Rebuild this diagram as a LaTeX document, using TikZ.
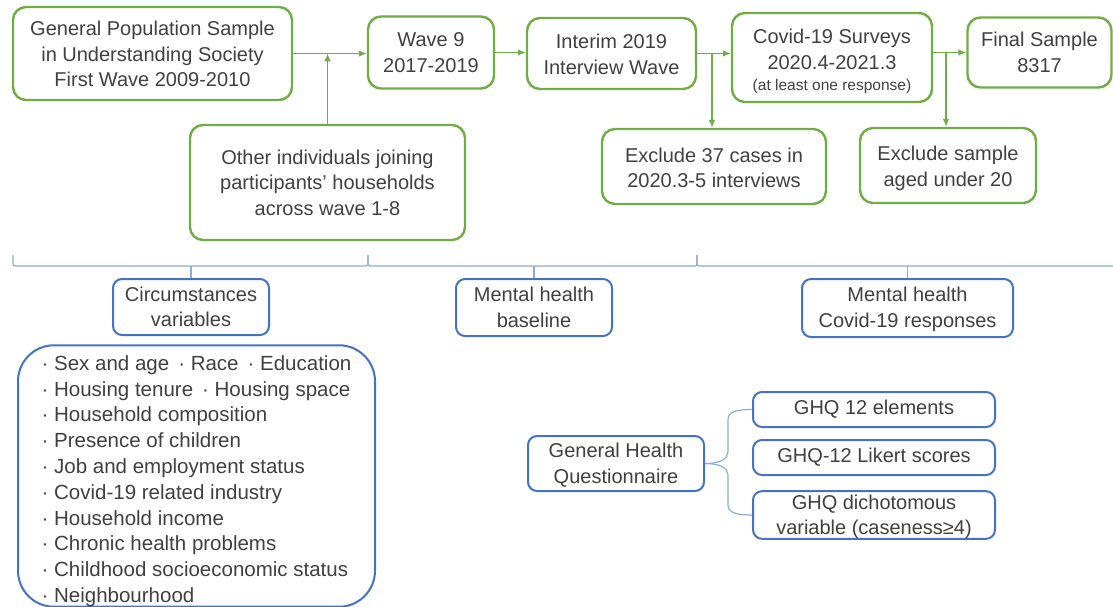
\documentclass[tikz,border=0pt]{standalone}
\usepackage{fontspec}
\setmainfont{Liberation Sans}
\usetikzlibrary{arrows.meta}
\definecolor{gr}{HTML}{70AD47}
\definecolor{bl}{HTML}{4472C4}
\definecolor{lbl}{HTML}{8FAADC}
\definecolor{txt}{HTML}{404040}
\newcommand\fsz[2]{\fontsize{#1}{#2}\selectfont}
\begin{document}
\begin{tikzpicture}[x=1pt,y=-1pt,
  gbox/.style={draw=gr,line width=2.4pt,rounded corners=13pt,align=center,text=txt,inner sep=0pt,font=\fsz{20}{25.5}},
  bbox/.style={draw=bl,line width=2pt,rounded corners=9pt,align=center,text=txt,inner sep=0pt,font=\fsz{20}{25.5}},
  arr/.style={draw=gr,line width=1.1pt,-{Latex[length=8pt,width=6.5pt]}},
  brc/.style={draw=lbl,line width=1.2pt,rounded corners=2pt},
  gbr/.style={draw=lbl,line width=1.2pt}]
\useasboundingbox (0,0) rectangle (1113,607);
% top flow
\node[gbox,minimum width=279pt,minimum height=93pt] (A) at (152.5,53.5) {\rule{0pt}{16pt}General Population Sample\\in Understanding Society\\First Wave 2009-2010};
\node[gbox,minimum width=126pt,minimum height=72pt] (W9) at (431,52.5) {Wave 9\\2017-2019};
\node[gbox,minimum width=169pt,minimum height=71pt] (Int) at (611.5,53.5) {\rule{0pt}{16pt}Interim 2019\\Interview Wave};
\node[gbox,minimum width=200pt,minimum height=89pt] (Cov) at (832,57.5) {\rule{0pt}{23pt}Covid-19 Surveys\\2020.4-2021.3\\[-4pt]{\fsz{15.5}{18}(at least one response)}};
\node[gbox,minimum width=144pt,minimum height=70pt] (Fin) at (1039.5,52.5) {Final Sample\\8317};
\node[gbox,minimum width=275pt,minimum height=115pt] (Oth) at (327.5,182.5) {Other individuals joining\\participants’ households\\across wave 1-8};
\node[gbox,minimum width=224pt,minimum height=75pt] (Ex37) at (714,166.5) {\rule{0pt}{17pt}Exclude 37 cases in\\2020.3-5 interviews};
\node[gbox,minimum width=176pt,minimum height=75pt] (ExS) at (948,165.5) {\rule{0pt}{20pt}Exclude sample\\aged under 20};
\coordinate (j2) at (712,53.5);
\coordinate (j3) at (946,52.5);
\draw[arr] (A.east) -- (A.east -| W9.west);
\draw[arr] (Oth.north) -- (Oth.north |- A.east);
\draw[arr] (W9.east) -- (W9.east -| Int.west);
\draw[arr] (Int.east) -- (Int.east -| Cov.west);
\draw[arr] (j2) -- (j2 |- Ex37.north);
\draw[arr] (Cov.east |- Fin.west) -- (Fin.west);
\draw[arr] (j3) -- (j3 |- ExS.north);
% lower part
\node[bbox,minimum width=156pt,minimum height=56pt] (Circ) at (191,307) {Circumstances\\variables};
\node[bbox,minimum width=156pt,minimum height=57pt] (MHB) at (534,307.5) {Mental health\\baseline};
\node[bbox,minimum width=211pt,minimum height=58pt] (MHC) at (907.5,308) {\rule{0pt}{17pt}Mental health\\Covid-19 responses};
\draw[brc] (13,255) -- (13,266) -- (368,266) -- (368,255);
\draw[brc] (368,255) -- (368,266) -- (697,266) -- (697,255);
\draw[brc] (697,255) -- (697,266) -- (1114,266);
\draw[gbr] (Circ.north |- 0,266) -- (Circ.north);
\draw[gbr] (MHB.north |- 0,266) -- (MHB.north);
\draw[gbr] (MHC.north |- 0,266) -- (MHC.north);
\node[bbox,rounded corners=36pt,minimum width=357pt,minimum height=258pt,align=left,font=\fsz{20.5}{25.8}] (List) at (196.5,476)
 {\rule{0pt}{25pt}· Sex and age\hspace{9pt}· Race\hspace{9pt}· Education\\
  · Housing tenure\hspace{9pt}· Housing space\\
  · Household composition\\
  · Presence of children\\
  · Job and employment status\\
  · Covid-19 related industry\\
  · Household income\\
  · Chronic health problems\\
  · Childhood socioeconomic status\\
  · Neighbourhood};
\node[bbox,minimum width=176pt,minimum height=55pt] (GHQ) at (616,463.5) {\rule{0pt}{18pt}General Health\\Questionnaire};
\node[bbox,minimum width=242pt,minimum height=35pt] (B1) at (874,409.5) {GHQ 12 elements};
\node[bbox,minimum width=242pt,minimum height=35pt] (B2) at (874,457.5) {GHQ-12 Likert scores};
\node[bbox,minimum width=242pt,minimum height=46pt] (B3) at (874,515) {\rule{0pt}{18pt}GHQ dichotomous\\variable (caseness≥4)};
\draw[gbr] (B1.west) .. controls (735,409.5) and (728,412) .. (728,420) -- (728,452) .. controls (728,459) and (720,463.5) .. (GHQ.east);
\draw[gbr] (GHQ.east) .. controls (720,463.5) and (728,468) .. (728,475) -- (728,505) .. controls (728,512) and (735,515) .. (B3.west);
\end{tikzpicture}
\end{document}
